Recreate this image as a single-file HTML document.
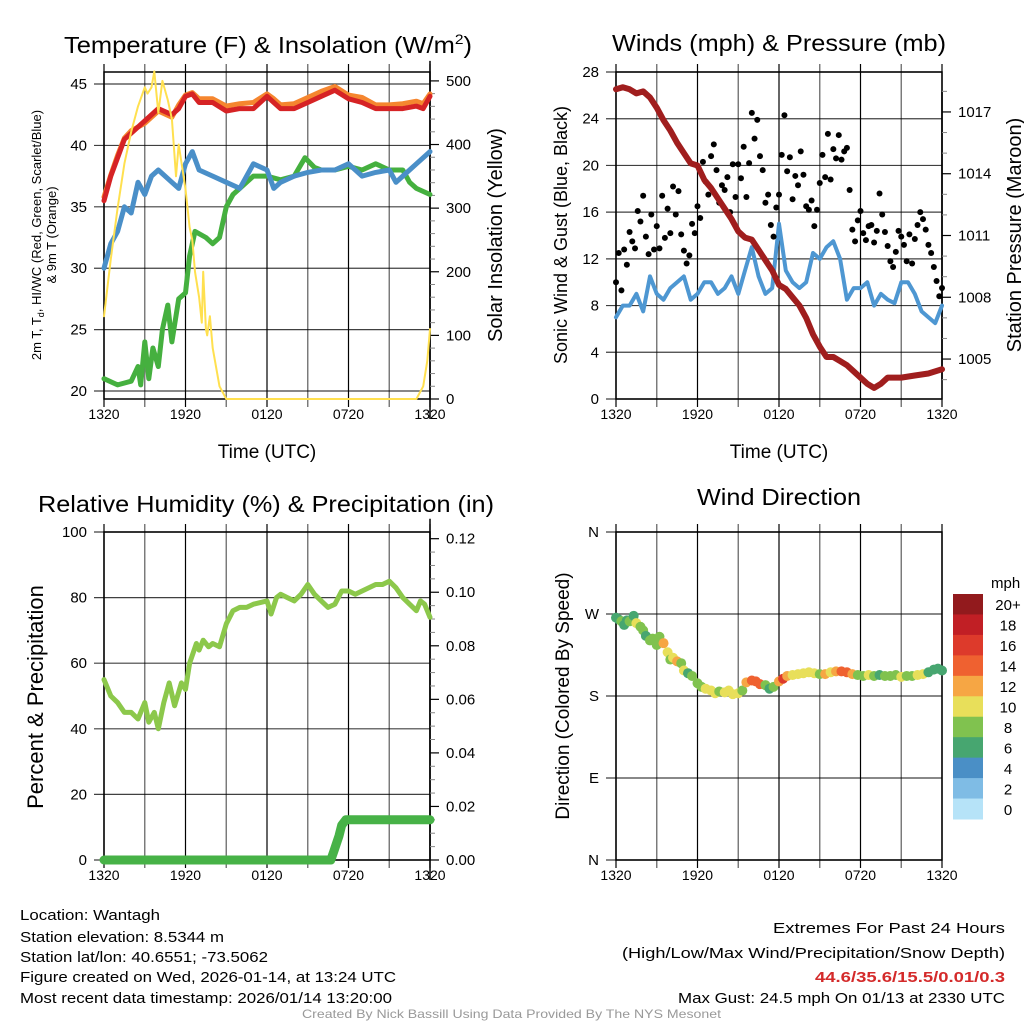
<!DOCTYPE html>
<html><head><meta charset="utf-8"><style>
html,body{margin:0;padding:0;background:#fff;}
svg{display:block;font-family:"Liberation Sans",sans-serif;}
</style></head><body>
<svg id="fig" width="1024" height="1024" viewBox="0 0 1024 1024" xmlns="http://www.w3.org/2000/svg">
<rect width="1024" height="1024" fill="#fff"/>
<g id="g1"></g>
<g id="g2"></g>
<g id="g3"></g>
<g id="g4"></g>
<g fill="#000">
<text x="64" y="53" font-size="23" textLength="408" lengthAdjust="spacingAndGlyphs">Temperature (F) &amp; Insolation (W/m<tspan dy="-9" font-size="14">2</tspan><tspan dy="9">)</tspan></text>
<text x="612" y="51" font-size="23" textLength="334" lengthAdjust="spacingAndGlyphs">Winds (mph) &amp; Pressure (mb)</text>
<text x="38" y="512" font-size="23" textLength="456" lengthAdjust="spacingAndGlyphs">Relative Humidity (%) &amp; Precipitation (in)</text>
<text x="697" y="505" font-size="23" textLength="164" lengthAdjust="spacingAndGlyphs">Wind Direction</text>
<text x="267" y="458" font-size="19" text-anchor="middle">Time (UTC)</text>
<text x="779" y="458" font-size="19" text-anchor="middle">Time (UTC)</text>
<text transform="translate(41,235) rotate(-90)" font-size="13" text-anchor="middle">2m T, T<tspan font-size="9" dy="3">d</tspan><tspan dy="-3">, HI/WC (Red, Green, Scarlet/Blue)</tspan></text>
<text transform="translate(56,235) rotate(-90)" font-size="13" text-anchor="middle">&amp; 9m T (Orange)</text>
<text transform="translate(502,235) rotate(-90)" font-size="20" text-anchor="middle">Solar Insolation (Yellow)</text>
<text transform="translate(567,235) rotate(-90)" font-size="18" text-anchor="middle">Sonic Wind &amp; Gust (Blue, Black)</text>
<text transform="translate(1021,235) rotate(-90)" font-size="20" text-anchor="middle">Station Pressure (Maroon)</text>
<text transform="translate(43,697) rotate(-90)" font-size="22" text-anchor="middle">Percent &amp; Precipitation</text>
<text transform="translate(569,696) rotate(-90)" font-size="19" text-anchor="middle">Direction (Colored By Speed)</text>
</g>
<g font-size="15" fill="#000">
<text x="20" y="920" textLength="140" lengthAdjust="spacingAndGlyphs">Location: Wantagh</text>
<text x="20" y="942" textLength="204" lengthAdjust="spacingAndGlyphs">Station elevation: 8.5344 m</text>
<text x="20" y="962" textLength="248" lengthAdjust="spacingAndGlyphs">Station lat/lon: 40.6551; -73.5062</text>
<text x="20" y="982" textLength="376" lengthAdjust="spacingAndGlyphs">Figure created on Wed, 2026-01-14, at 13:24 UTC</text>
<text x="20" y="1003" textLength="372" lengthAdjust="spacingAndGlyphs">Most recent data timestamp: 2026/01/14 13:20:00</text>
<text x="773" y="933" textLength="232" lengthAdjust="spacingAndGlyphs">Extremes For Past 24 Hours</text>
<text x="622" y="958" textLength="383" lengthAdjust="spacingAndGlyphs">(High/Low/Max Wind/Precipitation/Snow Depth)</text>
<text x="815" y="982" textLength="190" lengthAdjust="spacingAndGlyphs" font-weight="bold" fill="#d42a2a">44.6/35.6/15.5/0.01/0.3</text>
<text x="678" y="1003" textLength="327" lengthAdjust="spacingAndGlyphs">Max Gust: 24.5 mph On 01/13 at 2330 UTC</text>
<text x="302" y="1018" font-size="12" textLength="419" lengthAdjust="spacingAndGlyphs" fill="#999">Created By Nick Bassill Using Data Provided By The NYS Mesonet</text>
</g>
</svg>
<script>
// ---------- data (hours since 1320 UTC) ----------
const xTickLabels = ["1320","1920","0120","0720","1320"];
const tempT  = [0,0.5,1,1.5,2,3,4,5,5.5,6,6.5,7,8,9,10,11,12,12.5,13,14,15,16,17,18,19,20,21,22,23,23.5,24];
const tempRed= [35.5,37.5,39,40.5,41,42,43,42.5,43,44,44.2,43.5,43.5,42.8,43,43,44,43.5,43,43,43.5,44,44.5,43.8,43.5,43,43,43,43.2,43,44];
const tempOrange=[35.8,37.6,39.2,40.6,41.2,41.8,42.8,42.3,43.3,44.1,44.3,43.8,43.8,43.2,43.4,43.5,44.2,43.8,43.3,43.4,43.9,44.4,44.8,44.1,43.9,43.3,43.3,43.4,43.6,43.4,44.2];
const blueT  = [0,0.5,1,1.5,2,2.5,3,3.5,4,5,5.5,6,6.5,7,8,9,10,11,12,12.5,13,14,15,16,17,18,19,20,21,21.5,22,23,24];
const tempBlue=[30,32,33,35,34.5,37,36,37.5,38,37,36.5,38.5,39.5,38,37.5,37,36.5,38.5,38,36.5,37,37.5,37.8,38,38,38.5,37.5,37.8,38,37,37.5,38.5,39.5];
const greenT = [0,1,2,2.5,2.7,3,3.3,3.6,4,4.3,4.7,5,5.5,6,6.3,6.7,7.5,8,8.5,9,9.5,10,11,12,13,14,14.8,15.5,16,17,18,19,20,21,22,22.5,23,24];
const tempGreen=[21,20.5,20.8,22,20.5,24,21,23.5,22,25,27,24,27.5,28,31,33,32.5,32,32.5,35,36,36.5,37.5,37.5,37.2,37.5,39,38.2,38,38,38.3,38,38.5,38,38,37,36.5,36];
const solarT = [0,0.5,1,1.5,2,2.5,3,3.2,3.5,3.7,4,4.3,4.7,5,5.3,5.5,6,6.3,6.5,6.7,7,7.2,7.3,7.5,7.6,7.8,8,8.5,9,23,23.5,23.8,24];
const solar  = [130,220,300,370,420,460,490,480,490,515,450,500,470,440,350,400,330,270,250,200,160,120,200,110,100,130,80,20,0,0,20,60,110];
const windT  = [0,0.5,1,1.5,2,2.5,3,3.5,4,4.5,5,5.5,6,6.5,7,7.5,8,8.5,9,9.5,10,10.5,11,11.5,12,12.5,13,13.5,14,14.5,15,15.5,16,16.5,17,17.5,18,18.5,19,19.5,20,20.5,21,21.5,22,22.5,23,23.5,24];
const wind   = [7,8,8,9,7.5,10.5,9,8.5,9.5,10,10.5,8.5,9,10,10,9,9.5,10.5,9,11,13,10.5,9,9.5,15,11,10,9.5,10,12.5,12,13,13.5,12,8.5,9.5,9.5,10,8,9,8.5,8.2,10,10,9,7.5,7,6.5,8];
const gustT  = [0,0.2,0.4,0.6,0.8,1,1.2,1.4,1.6,1.8,2,2.2,2.4,2.6,2.8,3,3.2,3.4,3.6,3.8,4,4.2,4.4,4.6,4.8,5,5.2,5.4,5.6,5.8,6,6.2,6.4,6.6,6.8,7,7.2,7.4,7.6,7.8,8,8.2,8.4,8.6,8.8,9,9.2,9.4,9.6,9.8,10,10.2,10.4,10.6,10.8,11,11.2,11.4,11.6,11.8,12,12.2,12.4,12.6,12.8,13,13.2,13.4,13.6,13.8,14,14.2,14.4,14.6,14.8,15,15.2,15.4,15.6,15.8,16,16.2,16.4,16.6,16.8,17,17.2,17.4,17.6,17.8,18,18.2,18.4,18.6,18.8,19,19.2,19.4,19.6,19.8,20,20.2,20.4,20.6,20.8,21,21.2,21.4,21.6,21.8,22,22.2,22.4,22.6,22.8,23,23.2,23.4,23.6,23.8,24];
const gust   = [10,12.5,9.3,12.8,11.5,14.3,13.5,12.9,16.1,15.2,17.4,13.9,12.4,15.8,12.8,14.8,12.9,17.4,13.8,16.3,14.2,18.2,15.8,17.8,14.1,12.7,11.6,12.3,15,14.2,16.5,15.5,20.3,18.6,17.5,20.8,21.8,19.6,16.8,18.3,17.9,19,16,20.1,17.3,20.1,18.9,21.6,17.3,20.2,24.5,22.3,23.9,20.8,19.6,16.8,17.5,14.9,13.9,16.4,17.5,20.9,24.3,19.5,20.7,17.1,19.1,18.3,21.2,19.2,16.5,16.2,17,14.8,16.2,18.5,20.9,19,22.7,18.8,21.4,20.6,22.6,20.5,21.2,21.5,17.9,14.5,13.5,15.3,16.1,14.2,13.6,14.8,14.9,13.4,14.4,17.6,15.8,14.3,13.1,11.8,11.3,12.6,14.4,13.9,13.2,11.8,14.1,11.6,13.7,14.9,16,15.4,14.5,13.2,12.5,11.3,10.1,8.8,9.5,11.4];
const presT  = [0,0.5,1,1.5,2,2.5,3,3.5,4,4.5,5,5.5,6,6.5,7,7.5,8,8.5,9,9.5,10,10.5,11,11.5,12,12.5,13,13.5,14,14.5,15,15.5,16,16.5,17,17.5,18,18.5,19,19.5,20,21,22,23,24];
const pres   = [1018.1,1018.2,1018.1,1017.9,1018,1017.7,1017.2,1016.6,1016.1,1015.5,1015,1014.5,1014.4,1013.7,1013.3,1012.8,1012.3,1011.8,1011.2,1010.9,1010.8,1010.3,1009.8,1009.3,1008.6,1008.4,1008,1007.6,1007,1006.2,1005.6,1005.1,1005.1,1004.9,1004.7,1004.4,1004.1,1003.8,1003.6,1003.8,1004.1,1004.1,1004.2,1004.3,1004.5];
const rhT    = [0,0.5,1,1.5,2,2.5,3,3.3,3.7,4,4.4,4.8,5.2,5.7,6,6.3,6.8,7,7.3,7.7,8,8.5,9,9.5,10,10.5,11,12,12.3,12.7,13,13.5,14,14.5,15,15.5,16,16.5,17,17.5,18,18.5,19,19.5,20,20.5,21,21.5,22,22.5,23,23.3,23.6,24];
const rh     = [55,50,48,45,45,43,48,42,45,40,48,54,47,54,52,60,66,64,67,65,66,65,72,76,77,77,78,79,75,80,81,80,79,81,84,81,79,77,78,82,82,81,82,83,84,84,85,83,80,78,76,79,78,74];
const precipT= [0,16.7,16.9,17.1,17.3,17.5,17.8,24];
const precip = [0,0,0.003,0.006,0.009,0.013,0.015,0.015];
const dirT   = [0,0.2,0.4,0.6,0.8,1,1.3,1.5,1.8,2,2.2,2.5,2.7,3,3.2,3.5,3.8,4,4.2,4.5,4.8,5,5.3,5.6,6,6.3,6.6,7,7.3,7.6,8,8.3,8.6,9,9.3,9.6,10,10.3,10.6,11,11.3,11.6,12,12.3,12.6,13,13.4,13.8,14.2,14.6,15,15.4,15.8,16.2,16.6,17,17.4,17.8,18.2,18.6,19,19.4,19.8,20.2,20.6,21,21.4,21.8,22.2,22.6,23,23.4,23.7,24];
const dirDeg = [266,264,262,258,263,262,268,260,256,252,246,241,243,236,245,238,228,220,222,218,216,208,205,202,194,190,188,186,183,185,184,186,182,183,186,195,197,196,193,192,188,190,196,199,202,203,204,205,206,205,204,204,206,207,207,206,204,203,202,203,202,203,202,202,203,201,202,202,203,204,206,209,210,208];
const dirSpd = [7,6,8,6,7,8,7,10,8,8,7,8,9,8,8,12,11,9,10,12,8,10,7,9,8,9,10,11,11,9,10,11,10,10,9,13,14,15,15,8,7,9,12,17,13,11,11,10,10,10,9,12,11,12,14,15,13,8,9,10,8,7,8,8,9,10,8,9,10,10,7,6,6,7];
const cbLabels = ["20+","18","16","14","12","10","8","6","4","2","0"];
const cbColors = ["#921a1d","#c11f25","#dd3a2b","#ef6130","#f6a644","#e8df5a","#80c24f","#47a670","#4a8fc6","#7fbce5","#b6e3f8"];

const NS="http://www.w3.org/2000/svg";
function mk(parent, tag, attrs){const e=document.createElementNS(NS,tag);for(const k in attrs)e.setAttribute(k,attrs[k]);parent.appendChild(e);return e;}
function xs(L,R){return t=>L+(R-L)*t/24;}
function ys(B,T,v0,v1){return v=>B-(B-T)*(v-v0)/(v1-v0);}

function frame(g,L,R,T,B,yTicks,yFn,yLab,xLabs){
  for(let h=0;h<=24;h+=3){const x=xs(L,R)(h);
    const l=mk(g,'line',{x1:x,x2:x,y1:T-8,y2:B+8,stroke:'#000','stroke-width':h%6==0?1.2:1.4,'stroke-opacity':h%6==0?1:0.55});
    
    }
  yTicks.forEach((v,i)=>{const y=yFn(v);
    const l=mk(g,'line',{x1:L-10,x2:R,y1:y,y2:y,stroke:'#000','stroke-width':1.2,'stroke-opacity':0.75});
    
    
    const t=mk(g,'text',{x:L-17,y:y+5,'font-size':15,'text-anchor':'end'});t.textContent=yLab[i];
    
    });
  xLabs.forEach((s,i)=>{const t=mk(g,'text',{x:xs(L,R)(i*6),y:B+20,'font-size':14,'text-anchor':'middle'});t.textContent=s;
    
    });
  const r=mk(g,'rect',{x:L,y:T,width:R-L,height:B-T,fill:'none',stroke:'#000','stroke-width':1.5});
  
  
}
function rightAxis(g,R,ticks,yFn,labs,minor){
  const l=mk(g,'line',{x1:R,x2:R,y1:yFn(ticks[0])+20,y2:yFn(ticks[ticks.length-1])-20,stroke:'#000','stroke-width':1.5});
  
  
  minor.forEach(v=>{const y=yFn(v);const m=mk(g,'line',{x1:R,x2:R+5,y1:y,y2:y,stroke:'#888','stroke-width':1});
    
    });
  ticks.forEach((v,i)=>{const y=yFn(v);
    const tk=mk(g,'line',{x1:R,x2:R+9,y1:y,y2:y,stroke:'#000','stroke-width':1.2});
    
    
    const t=mk(g,'text',{x:R+16,y:y+5,'font-size':15});t.textContent=labs[i];
    
    });
}
function line(g,T,V,xf,yf,col,w,name){
  const d=T.map((t,i)=>(i?'L':'M')+xf(t).toFixed(1)+','+yf(V[i]).toFixed(1)).join('');
  const p=mk(g,'path',{d:d,fill:'none',stroke:col,'stroke-width':w,'stroke-linejoin':'round','stroke-linecap':'round'});
  
  
}

{const g=document.getElementById('g1');const L=104,R=430,T=72,B=399;
 const X=xs(L,R),Y=ys(B,T,19.35,45.98),YS=ys(B,T,0,514);
 frame(g,L,R,T,B,[20,25,30,35,40,45],Y,["20","25","30","35","40","45"],xTickLabels);
 const mn=[];for(let v=20;v<=500;v+=20)if(v%100)mn.push(v);
 rightAxis(g,R,[0,100,200,300,400,500],YS,["0","100","200","300","400","500"],mn);
 line(g,tempT,tempOrange,X,Y,'#f5862f',5,'series-9m-temp');
 line(g,tempT,tempRed,X,Y,'#d62325',5,'series-2m-temp');
 line(g,greenT,tempGreen,X,Y,'#45b03f',5,'series-dewpoint');
 line(g,blueT,tempBlue,X,Y,'#4a8fc8',5,'series-windchill');
 line(g,solarT,solar,X,YS,'#ffe04f',2,'series-solar');}

{const g=document.getElementById('g2');const L=616,R=942,T=72,B=399;
 const X=xs(L,R),Y=ys(B,T,0,28),YP=ys(B,T,1003.06,1018.94);
 frame(g,L,R,T,B,[0,4,8,12,16,20,24,28],Y,["0","4","8","12","16","20","24","28"],xTickLabels);
 const mn=[];for(let v=1004;v<=1018;v++)if((v-1005)%3)mn.push(v);
 rightAxis(g,R,[1005,1008,1011,1014,1017],YP,["1005","1008","1011","1014","1017"],mn);
 line(g,windT,wind,X,Y,'#4e97d2',4,'series-wind-speed');
 gustT.forEach((t,i)=>{const c=mk(g,'circle',{cx:X(t),cy:Y(gust[i]),r:3,fill:'#000'});
   
   });
 line(g,presT,pres,X,YP,'#a01e1e',6,'series-pressure');}

{const g=document.getElementById('g3');const L=104,R=430,T=532,B=860;
 const X=xs(L,R),Y=ys(B,T,0,100),YP=ys(B,T,0,0.1225);
 frame(g,L,R,T,B,[0,20,40,60,80,100],Y,["0","20","40","60","80","100"],xTickLabels);
 const mn=[];for(let v=0.005;v<0.122;v+=0.005){if(Math.abs(v/0.02-Math.round(v/0.02))>0.01)mn.push(v);}
 rightAxis(g,R,[0,0.02,0.04,0.06,0.08,0.10,0.12],YP,["0.00","0.02","0.04","0.06","0.08","0.10","0.12"],mn);
 line(g,rhT,rh,X,Y,'#8cc84b',5,'series-humidity');
 line(g,precipT,precip,X,YP,'#47b247',9,'series-precipitation');}

{const g=document.getElementById('g4');const L=616,R=942,T=532,B=860;
 const X=xs(L,R),Y=ys(B,T,0,360);
 frame(g,L,R,T,B,[0,90,180,270,360],Y,["N","E","S","W","N"],xTickLabels);
 function spdCol(s){let k=Math.min(10,Math.floor(s/2));return cbColors[10-k];}
 dirT.forEach((t,i)=>{const c=mk(g,'circle',{cx:X(t),cy:Y(dirDeg[i]),r:5,fill:spdCol(dirSpd[i])});
   
   });
 const cb=mk(g,'g',{});
 
 
 const h=(819-594)/cbColors.length;
 cbColors.forEach((c,i)=>{const r=mk(cb,'rect',{x:953,y:594+i*h,width:30,height:h+0.5,fill:c});
   
   
   const t=mk(cb,'text',{x:1008,y:594+i*h+h/2+6,'font-size':15,'text-anchor':'middle'});t.textContent=cbLabels[i];
   
   });
 const u=mk(cb,'text',{x:991,y:588,'font-size':15});u.textContent='mph';
 
 }
</script>
</body></html>
